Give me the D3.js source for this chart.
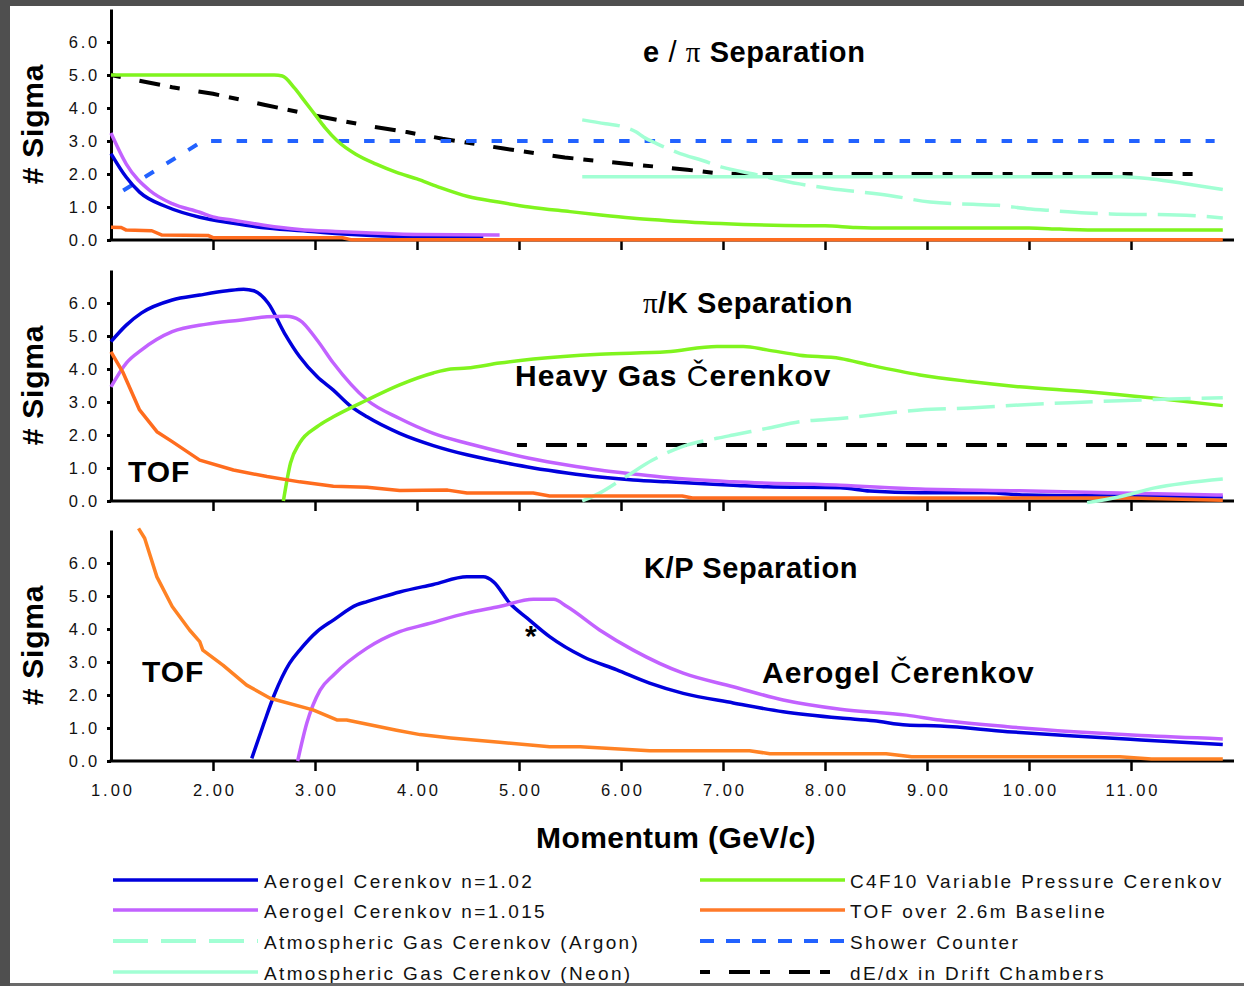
<!DOCTYPE html>
<html>
<head>
<meta charset="utf-8">
<script src="https://cdn.jsdelivr.net/npm/d3@7"></script>
<style>
	body { margin: 0; background: #4f4f4f; }
	svg { display: block; }
	.tick text { font-family: 'Liberation Sans', Arial, sans-serif; fill: #111; }
</style>
</head>
<body>
<div id="chart"></div>
<script>
const w = 1244;
const h = 986;

// ---- data: [momentum GeV/c, # sigma] ----
const momentumTicks = [1, 2, 3, 4, 5, 6, 7, 8, 9, 10, 11];
const sigmaTicks = [0, 1, 2, 3, 4, 5, 6];

// e/pi separation
const epAerogel102 = [[1.0, 2.62], [1.15, 1.9], [1.28, 1.45], [1.55, 1.0], [1.87, 0.69], [2.2, 0.51], [2.53, 0.36], [3.0, 0.25], [3.2, 0.2], [4.0, 0.1], [4.65, 0.08]];
const epAerogel1015 = [[1.0, 3.24], [1.15, 2.3], [1.38, 1.5], [1.6, 1.1], [1.87, 0.84], [2.0, 0.7], [2.2, 0.6], [2.5, 0.45], [2.85, 0.32], [3.2, 0.26], [3.5, 0.22], [4.0, 0.17], [4.81, 0.15]];
const epC4F10 = [[1.0, 5.0], [2.6, 5.0], [2.68, 4.97], [2.8, 4.6], [2.9, 4.2], [3.0, 3.8], [3.1, 3.4], [3.22, 3.0], [3.4, 2.6], [3.6, 2.3], [3.8, 2.05], [4.0, 1.85], [4.2, 1.62], [4.5, 1.32], [4.8, 1.15], [5.1, 1.0], [5.5, 0.86], [5.8, 0.76], [6.1, 0.67], [6.4, 0.6], [6.8, 0.52], [7.2, 0.47], [7.6, 0.44], [8.0, 0.43], [8.3, 0.38], [8.6, 0.36], [10.0, 0.36], [10.3, 0.33], [10.7, 0.3], [11.9, 0.3]];
const epTOF = [[1.0, 0.39], [1.1, 0.38], [1.15, 0.3], [1.4, 0.28], [1.5, 0.15], [1.95, 0.14], [2.0, 0.07], [3.27, 0.07], [3.35, 0.01], [11.9, 0.01]];
const epArgon = [[5.62, 3.64], [5.85, 3.52], [6.0, 3.45], [6.15, 3.27], [6.22, 3.12], [6.35, 2.92], [6.58, 2.62], [6.8, 2.41], [7.0, 2.2], [7.3, 2.0], [7.75, 1.7], [8.05, 1.56], [8.63, 1.35], [9.03, 1.15], [9.45, 1.08], [9.7, 1.05], [9.98, 0.95], [10.23, 0.89], [10.56, 0.82], [10.8, 0.79], [11.45, 0.76], [11.9, 0.67]];
const epNeon = [[5.62, 1.92], [10.9, 1.92], [11.2, 1.85], [11.55, 1.7], [11.9, 1.53]];
const epShower = [[1.12, 1.5], [1.9, 3.0], [11.82, 3.0]];
const epDedx = [[1.0, 5.0], [1.6, 4.63], [2.0, 4.43], [2.5, 4.1], [3.0, 3.77], [3.5, 3.47], [3.9, 3.27], [4.25, 3.07], [4.85, 2.77], [5.45, 2.5], [6.05, 2.31], [6.65, 2.13], [6.95, 2.02], [7.2, 2.0], [11.7, 2.0]];

// pi/K separation
const pkAerogel102 = [[1.0, 4.83], [1.15, 5.33], [1.3, 5.7], [1.6, 6.09], [1.87, 6.24], [2.14, 6.37], [2.3, 6.42], [2.4, 6.37], [2.54, 6.0], [2.7, 5.09], [2.85, 4.37], [3.02, 3.77], [3.18, 3.36], [3.34, 2.9], [3.51, 2.55], [3.83, 2.05], [4.16, 1.68], [4.49, 1.4], [4.81, 1.19], [5.14, 1.0], [5.47, 0.85], [5.79, 0.73], [6.12, 0.64], [6.45, 0.58], [7.1, 0.48], [7.43, 0.43], [8.15, 0.4], [8.44, 0.3], [8.93, 0.25], [9.59, 0.25], [9.98, 0.18], [10.89, 0.15], [11.9, 0.12]];
const pkAerogel1015 = [[1.0, 3.46], [1.15, 4.18], [1.3, 4.58], [1.6, 5.13], [1.94, 5.36], [2.26, 5.48], [2.53, 5.58], [2.72, 5.6], [2.85, 5.48], [3.02, 4.88], [3.18, 4.18], [3.51, 3.06], [3.83, 2.5], [4.16, 2.05], [4.49, 1.75], [4.81, 1.5], [5.14, 1.27], [5.47, 1.09], [5.79, 0.94], [6.12, 0.82], [6.45, 0.71], [7.1, 0.58], [8.15, 0.48], [8.93, 0.36], [9.91, 0.31], [10.89, 0.24], [11.9, 0.18]];
const pkC4F10 = [[2.69, 0.0], [2.76, 1.15], [2.85, 1.76], [3.02, 2.25], [3.18, 2.55], [3.51, 3.06], [3.83, 3.52], [4.16, 3.88], [4.33, 4.0], [4.49, 4.03], [4.81, 4.18], [5.14, 4.3], [5.79, 4.45], [6.45, 4.52], [6.94, 4.68], [7.2, 4.68], [7.43, 4.58], [7.75, 4.42], [8.15, 4.32], [8.44, 4.12], [8.93, 3.82], [9.42, 3.62], [9.91, 3.46], [10.57, 3.31], [11.22, 3.12], [11.9, 2.89]];
const pkTOF = [[1.0, 4.52], [1.12, 3.88], [1.28, 2.76], [1.45, 2.1], [1.6, 1.8], [1.87, 1.24], [2.2, 0.94], [2.53, 0.74], [2.85, 0.58], [3.18, 0.45], [3.51, 0.42], [3.83, 0.32], [4.3, 0.33], [4.49, 0.24], [5.14, 0.24], [5.3, 0.15], [6.6, 0.15], [6.7, 0.09], [11.0, 0.09], [11.9, 0.02]];
const pkArgon = [[5.62, 0.0], [5.79, 0.24], [6.05, 0.74], [6.31, 1.24], [6.6, 1.65], [6.94, 1.9], [7.1, 2.0], [7.43, 2.2], [7.75, 2.4], [8.15, 2.5], [8.44, 2.6], [8.93, 2.76], [9.42, 2.82], [9.91, 2.91], [10.4, 2.98], [10.89, 3.04], [11.9, 3.13]];
const pkNeon = [[10.57, -0.05], [10.89, 0.13], [11.22, 0.39], [11.9, 0.67]];
const pkDedx = [[4.98, 1.7], [12.0, 1.7]];

// K/P separation
const kpAerogel102 = [[2.38, 0.08], [2.5, 1.15], [2.6, 2.0], [2.75, 2.96], [2.85, 3.36], [3.02, 3.92], [3.18, 4.27], [3.41, 4.73], [3.51, 4.83], [3.67, 4.98], [3.83, 5.12], [4.16, 5.35], [4.49, 5.58], [4.65, 5.58], [4.75, 5.43], [4.91, 4.78], [5.08, 4.33], [5.3, 3.77], [5.63, 3.16], [5.96, 2.76], [6.28, 2.36], [6.61, 2.05], [7.1, 1.76], [7.59, 1.49], [8.15, 1.3], [8.48, 1.22], [8.8, 1.09], [9.13, 1.06], [9.79, 0.89], [10.44, 0.76], [11.1, 0.64], [11.9, 0.5]];
const kpAerogel1015 = [[2.83, 0.0], [2.92, 1.15], [3.05, 2.15], [3.18, 2.6], [3.51, 3.42], [3.83, 3.92], [4.1, 4.15], [4.49, 4.48], [4.81, 4.68], [5.14, 4.9], [5.34, 4.9], [5.47, 4.68], [5.79, 3.97], [6.12, 3.36], [6.61, 2.66], [7.1, 2.25], [7.59, 1.85], [8.15, 1.57], [8.8, 1.39], [9.13, 1.24], [9.79, 1.04], [10.44, 0.89], [11.1, 0.77], [11.9, 0.67]];
const kpTOF = [[1.27, 7.05], [1.33, 6.75], [1.45, 5.58], [1.6, 4.68], [1.77, 3.97], [1.87, 3.62], [1.9, 3.36], [2.1, 2.9], [2.33, 2.3], [2.56, 1.9], [2.98, 1.55], [3.22, 1.24], [3.31, 1.24], [3.8, 0.93], [4.03, 0.8], [4.33, 0.7], [4.81, 0.57], [5.3, 0.43], [5.6, 0.43], [6.28, 0.31], [7.26, 0.31], [7.46, 0.22], [8.6, 0.22], [8.85, 0.13], [10.89, 0.13], [11.2, 0.06], [11.9, 0.06]];

const legendLabels = [
	'Aerogel Cerenkov n=1.02',
	'Aerogel Cerenkov n=1.015',
	'Atmospheric Gas Cerenkov (Argon)',
	'Atmospheric Gas Cerenkov (Neon)',
	'C4F10 Variable Pressure Cerenkov',
	'TOF over 2.6m Baseline',
	'Shower Counter',
	'dE/dx in Drift Chambers',
];

// line styles for each detector
const styles = {
	a102: {color: '#0000dc', width: 3.5, dash: null, curve: d3.curveMonotoneX},
	a1015: {color: '#c262ff', width: 3.5, dash: null, curve: d3.curveMonotoneX},
	argon: {color: '#a2ffd4', width: 3.5, dash: '38,11', curve: d3.curveMonotoneX},
	neon: {color: '#a2ffd4', width: 3.5, dash: null, curve: d3.curveMonotoneX},
	c4f10: {color: '#80f41e', width: 3.5, dash: null, curve: d3.curveMonotoneX},
	tof: {color: '#ff6c1e', width: 3.5, dash: null, curve: d3.curveLinear},
	shower: {color: '#2262ff', width: 4, dash: '10.5,15', curve: d3.curveLinear},
	dedx: {color: '#000', width: 4, dash: '10,19,21,10', curve: d3.curveLinear},
};
const legendKeys = ['a102', 'a1015', 'argon', 'neon', 'c4f10', 'tof', 'shower', 'dedx'];

const x = d3.scaleLinear().domain([1, 12]).range([111, 1233]);

const panels = [
	{base: 240, series: [['dedx', epDedx], ['shower', epShower], ['argon', epArgon], ['neon', epNeon], ['c4f10', epC4F10], ['a102', epAerogel102], ['a1015', epAerogel1015], ['tof', epTOF]]},
	{base: 501, series: [['dedx', pkDedx], ['a102', pkAerogel102], ['a1015', pkAerogel1015], ['c4f10', pkC4F10], ['argon', pkArgon], ['tof', pkTOF], ['neon', pkNeon]]},
	{base: 761, series: [['a102', kpAerogel102], ['a1015', kpAerogel1015], ['tof', kpTOF]], tofColor: '#ff8224', labels: true},
];

const svg = d3
	.select('#chart')
	.append('svg')
	.attr('width', w)
	.attr('height', h);

svg.append('rect').attr('width', w).attr('height', h).attr('fill', '#4f4f4f');
svg.append('rect').attr('x', 10).attr('y', 6).attr('width', w - 10).attr('height', 977).attr('fill', '#fff');

const boldFont = "'Liberation Sans', Arial, sans-serif";

panels.forEach(panel => {
	const y = d3.scaleLinear().domain([0, 7]).range([panel.base, panel.base - 231]);
	const g = svg.append('g');

	const line = d3.line().x(d => x(d[0])).y(d => y(d[1]));

	// y axis
	const yAxis = d3.axisLeft(y)
		.tickValues(sigmaTicks)
		.tickFormat(d3.format('.1f'))
		.tickSize(4)
		.tickSizeOuter(0)
		.tickPadding(7);
	const gy = g.append('g').attr('transform', `translate(${x(1)},0)`).call(yAxis);
	gy.select('.domain').attr('stroke', '#000').attr('stroke-width', 3);
	gy.selectAll('.tick line').attr('stroke', '#000').attr('stroke-width', 3);
	gy.selectAll('.tick text').style('font-size', '16.5px').style('letter-spacing', '2.8px');

	// x axis
	const xAxis = d3.axisBottom(x)
		.tickValues(momentumTicks)
		.tickFormat(d3.format('.2f'))
		.tickSize(10)
		.tickSizeOuter(0)
		.tickPadding(13);
	const gx = g.append('g').attr('transform', `translate(0,${panel.base})`).call(xAxis);
	gx.select('.domain').attr('stroke', '#000').attr('stroke-width', 3).attr('d', `M${x(1) - 1.5},0H${x(12) + 1}`);
	gx.selectAll('.tick line').attr('stroke', '#000').attr('stroke-width', 2.5);
	gx.selectAll('.tick').filter(d => d === 1).select('line').remove();
	gx.selectAll('.tick text')
		.style('font-size', '16.5px')
		.style('letter-spacing', '3px')
		.attr('dx', '1.5px')
		.style('display', panel.labels ? null : 'none');

	// curves
	panel.series.forEach(([key, data]) => {
		const s = styles[key];
		g.append('path')
			.datum(data)
			.attr('fill', 'none')
			.attr('stroke', key === 'tof' && panel.tofColor ? panel.tofColor : s.color)
			.attr('stroke-width', s.width)
			.attr('stroke-dasharray', s.dash)
			.attr('stroke-linejoin', 'round')
			.attr('d', line.curve(s.curve));
	});

	// y title
	g.append('text')
		.attr('transform', `translate(43,${panel.base - 116}) rotate(-90)`)
		.attr('text-anchor', 'middle')
		.style('font-family', boldFont)
		.style('font-weight', 'bold')
		.style('font-size', '30px')
		.style('letter-spacing', '0.8px')
		.text('# Sigma');
});

// panel titles and annotations
function addLabel(xPos, yPos, parts, size, spacing) {
	const t = svg.append('text')
		.attr('x', xPos)
		.attr('y', yPos)
		.style('font-family', boldFont)
		.style('font-size', `${size}px`)
		.style('letter-spacing', `${spacing}px`);
	parts.forEach(([str, kind]) => {
		const span = t.append('tspan').text(str);
		if (kind === 'serif') {
			span.style('font-family', "'Liberation Serif', serif").style('font-weight', 'normal');
		} else if (kind === 'normal') {
			span.style('font-weight', 'normal');
		} else {
			span.style('font-weight', 'bold');
		}
	});
	return t;
}

addLabel(643, 62, [['e', 'b'], [' / ', 'normal'], ['\u03c0', 'serif'], [' Separation', 'b']], 29, 0.6);
addLabel(643, 313, [['\u03c0', 'serif'], ['/K Separation', 'b']], 29, 0.6);
addLabel(644, 578, [['K/P Separation', 'b']], 29, 0.6);
addLabel(515, 386, [['Heavy Gas ', 'b'], ['\u010c', 'normal'], ['erenkov', 'b']], 30, 1);
addLabel(762, 683, [['Aerogel ', 'b'], ['\u010c', 'normal'], ['erenkov', 'b']], 30, 1);
addLabel(128, 482, [['TOF', 'b']], 30, 1);
addLabel(142, 682, [['TOF', 'b']], 30, 1);
addLabel(525, 646, [['*', 'b']], 30, 0);

// x title
svg.append('text')
	.attr('x', 676)
	.attr('y', 848)
	.attr('text-anchor', 'middle')
	.style('font-family', boldFont)
	.style('font-weight', 'bold')
	.style('font-size', '30px')
	.style('letter-spacing', '0.4px')
	.text('Momentum (GeV/c)');

// legend
const legendRows = [880, 910, 941, 972];
const legend = svg.append('g').attr('id', 'legend');
const items = legend
	.selectAll('g')
	.data(legendKeys)
	.enter()
	.append('g')
	.attr('transform', (d, i) => `translate(${i < 4 ? 113 : 700},${legendRows[i % 4]})`);

items.append('line')
	.attr('x1', 0)
	.attr('x2', 145)
	.attr('stroke', d => (d === 'tof' ? '#ff7a2a' : styles[d].color))
	.attr('stroke-width', d => (styles[d].dash ? 4 : 3.5))
	.attr('stroke-dasharray', d => (d === 'argon' ? '35,13' : d === 'shower' ? '14,12' : d === 'dedx' ? '10,19,21,10' : null));

items.append('text')
	.attr('x', (d, i) => (i < 4 ? 151 : 150))
	.attr('y', 8)
	.style('font-family', boldFont)
	.style('font-size', '19px')
	.style('letter-spacing', '2.35px')
	.attr('fill', '#111')
	.text((d, i) => legendLabels[i]);

// bottom frame line
svg.append('rect').attr('x', 10).attr('y', 983).attr('width', w - 10).attr('height', 3).attr('fill', '#6a6a6a');
</script>
</body>
</html>
